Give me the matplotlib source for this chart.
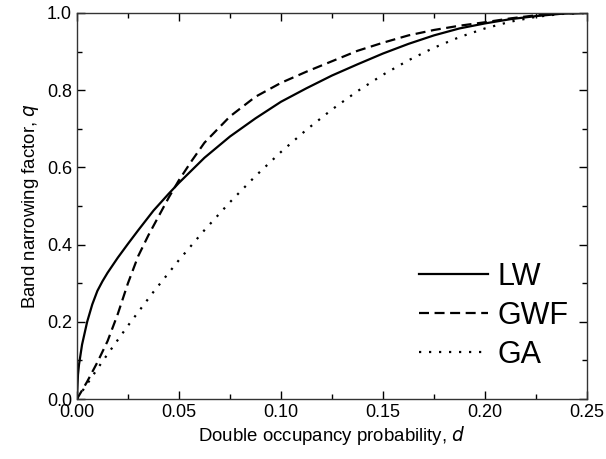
import matplotlib
matplotlib.use("Agg")
import matplotlib.pyplot as plt
from matplotlib.ticker import MultipleLocator

plt.rcParams["font.family"] = ["Liberation Sans", "DejaVu Sans"]

# values
lw_d = [0, 0.0005, 0.001, 0.0025, 0.005, 0.0075, 0.01, 0.0125, 0.015, 0.02,
        0.025, 0.03, 0.0375, 0.045, 0.05, 0.0625, 0.075, 0.0875, 0.1,
        0.1125, 0.125, 0.1375, 0.15, 0.1625, 0.175, 0.1875, 0.2, 0.2125,
        0.225, 0.2375, 0.25]
lw_q = [0, 0.063, 0.089, 0.141, 0.2, 0.245, 0.28, 0.305, 0.327, 0.366,
        0.402, 0.437, 0.488, 0.532, 0.56, 0.625, 0.68, 0.727, 0.77,
        0.805, 0.838, 0.867, 0.895, 0.92, 0.942, 0.96, 0.973, 0.984,
        0.992, 0.998, 1.0]

gwf_d = [0, 0.005, 0.01, 0.015, 0.02, 0.025, 0.03, 0.035, 0.04, 0.045,
         0.05, 0.05625, 0.0625, 0.075, 0.0875, 0.1, 0.1125, 0.125, 0.1375,
         0.15, 0.1625, 0.175, 0.1875, 0.2, 0.2125, 0.225, 0.2375, 0.25]
gwf_q = [0, 0.045, 0.095, 0.15, 0.22, 0.30, 0.37, 0.424, 0.473, 0.522,
         0.567, 0.617, 0.664, 0.732, 0.783, 0.819, 0.848, 0.875, 0.902,
         0.923, 0.942, 0.956, 0.967, 0.976, 0.986, 0.994, 0.999, 1.0]

ga_d = [0, 0.0125, 0.025, 0.0375, 0.05, 0.0625, 0.075, 0.0875, 0.1, 0.1125,
        0.125, 0.1375, 0.15, 0.1625, 0.175, 0.1875, 0.2, 0.2125, 0.225,
        0.2375, 0.25]
ga_q = [0, 0.0975, 0.19, 0.2775, 0.36, 0.4375, 0.51, 0.5775, 0.64, 0.6975,
        0.75, 0.7975, 0.84, 0.8775, 0.91, 0.9375, 0.96, 0.9775, 0.99,
        0.9975, 1.0]

fig = plt.figure(figsize=(6.06, 4.59), dpi=100)
ax = fig.add_axes([0.127, 0.1307, 0.8416, 0.841])

ax.plot(lw_d, lw_q, color="black", lw=1.6, ls="-", label="LW")
ax.plot(gwf_d, gwf_q, color="black", lw=1.6, ls=(0, (4.5, 2.5)), label="GWF")
ax.plot(ga_d, ga_q, color="black", lw=1.6, ls=(0, (1, 3.5)), label="GA")

ax.set_xlim(0, 0.25)
ax.set_ylim(0, 1.0)
ax.xaxis.set_major_locator(MultipleLocator(0.05))
ax.xaxis.set_minor_locator(MultipleLocator(0.025))
ax.yaxis.set_major_locator(MultipleLocator(0.2))
ax.yaxis.set_minor_locator(MultipleLocator(0.1))
ax.xaxis.set_major_formatter(plt.FormatStrFormatter("%.2f"))
ax.yaxis.set_major_formatter(plt.FormatStrFormatter("%.1f"))
ax.tick_params(which="both", direction="in", top=True, right=True,
               labelsize=13, width=1.0)
ax.tick_params(which="major", length=6)
ax.tick_params(which="minor", length=3.5)
for s in ax.spines.values():
    s.set_linewidth(1.0)
    s.set_color("#333333")

ax.set_xlabel("Double occupancy probability, $\\it{d}$", fontsize=13.4, labelpad=2)
ax.set_ylabel("Band narrowing factor, $\\it{q}$", fontsize=13.4, labelpad=4)

ax.legend(loc="lower right", bbox_to_anchor=(1.005, 0.02), frameon=False,
          fontsize=22, handlelength=2.25, handletextpad=0.3,
          labelspacing=0.3, borderpad=0.2)

fig.savefig("out.png", dpi=100)
